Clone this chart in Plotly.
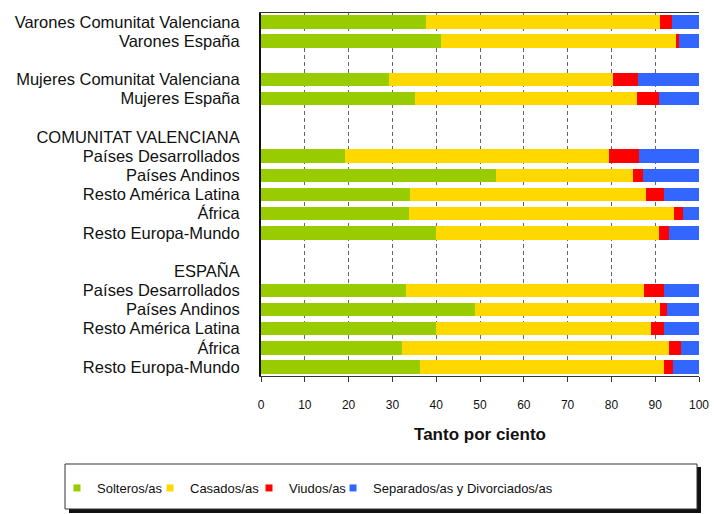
import plotly.graph_objects as go

labels = ["Varones Comunitat Valenciana", "Varones España", "",
          "Mujeres Comunitat Valenciana", "Mujeres España", "",
          "COMUNITAT VALENCIANA", "Países Desarrollados", "Países Andinos",
          "Resto América Latina", "África", "Resto Europa-Mundo", "",
          "ESPAÑA", "Países Desarrollados", "Países Andinos",
          "Resto América Latina", "África", "Resto Europa-Mundo"]

solteros = [37.6, 41.2, None, 29.3, 35.2, None, None, 19.2, 53.7, 34.0, 33.8, 40.0,
            None, None, 33.0, 48.9, 40.0, 32.3, 36.4]
casados = [53.5, 53.5, None, 51.1, 50.6, None, None, 60.3, 31.3, 53.8, 60.6, 50.9,
           None, None, 54.4, 42.2, 49.0, 60.8, 55.5]
viudos = [2.7, 0.8, None, 5.6, 5.1, None, None, 6.7, 2.3, 4.1, 1.9, 2.3,
          None, None, 4.7, 1.7, 2.9, 2.7, 2.2]
separados = [6.2, 4.5, None, 14.0, 9.1, None, None, 13.8, 12.7, 8.1, 3.7, 6.8,
             None, None, 7.9, 7.2, 8.1, 4.2, 5.9]

series_names = ["Solteros/as", "Casados/as", "Viudos/as", "Separados/as y Divorciados/as"]
series_values = [solteros, casados, viudos, separados]
series_colors = ["#99CC00", "#FFD800", "#FF0000", "#3366FF"]

xticks = [0, 10, 20, 30, 40, 50, 60, 70, 80, 90, 100]

pos = list(range(len(labels)))

W, H = 714, 514
PL, PR, PT, PB = 261, 699, 13, 376   # plot area in pixels

def px_x(p):
    return (p - PL) / float(PR - PL)

def px_y(p):
    return (PB - p) / float(PB - PT)

fig = go.Figure()
for name, vals, col in zip(series_names, series_values, series_colors):
    fig.add_trace(go.Bar(y=pos, x=vals, orientation="h", name=name,
                         marker=dict(color=col, line=dict(width=0)),
                         width=0.7, showlegend=False, hoverinfo="skip"))

legend_ids = ["legend", "legend2", "legend3", "legend4"]
legend_text_x = [92, 185, 284, 368]
for lid, name, col in zip(legend_ids, series_names, series_colors):
    fig.add_trace(go.Scatter(x=[None], y=[None], mode="markers", name=name,
                             marker=dict(symbol="square", size=7, color=col),
                             showlegend=True, legend=lid, hoverinfo="skip"))

font = "Liberation Sans, Arial, sans-serif"

fig.add_shape(type="rect", xref="paper", yref="paper",
              x0=px_x(69), x1=px_x(701), y0=px_y(513), y1=px_y(467),
              fillcolor="#111111", line=dict(width=0), layer="above")
fig.add_shape(type="rect", xref="paper", yref="paper",
              x0=px_x(65), x1=px_x(697), y0=px_y(509), y1=px_y(464),
              fillcolor="white", line=dict(color="#333333", width=1), layer="above")

legend_layout = {}
for lid, tx in zip(legend_ids, legend_text_x):
    legend_layout[lid] = dict(orientation="h", x=px_x(tx - 35), xanchor="left",
                              y=px_y(488), yanchor="middle",
                              bgcolor="rgba(0,0,0,0)", borderwidth=0,
                              font=dict(size=13, family=font, color="#111111"),
                              itemwidth=30)

fig.update_layout(
    width=W, height=H,
    margin=dict(l=PL, r=W - PR, t=PT, b=H - PB, autoexpand=False),
    paper_bgcolor="white", plot_bgcolor="white",
    barmode="stack", bargap=0.3, hovermode=False,
    font=dict(family=font, color="#111111"),
    xaxis=dict(range=[0, 100], tickvals=xticks, ticktext=[str(v) for v in xticks],
               showgrid=True, gridcolor="#666666", griddash="4px,3px", gridwidth=1,
               zeroline=False, showline=True, linecolor="#333333", linewidth=1,
               mirror=True, ticks="outside", ticklen=5, tickcolor="#333333",
               tickfont=dict(size=12, family=font), ticklabelstandoff=13,
               automargin=False,
               title=dict(text="<b>Tanto por ciento</b>", font=dict(size=17, family=font),
                          standoff=16)),
    yaxis=dict(range=[18.47, -0.47], tickvals=pos, ticktext=labels,
               showgrid=False, zeroline=False, showline=True, linecolor="#111111",
               linewidth=2, ticks="", tickfont=dict(size=16.5, family=font),
               ticklabelstandoff=16, automargin=False),
    **legend_layout,
)

fig.write_html("out.html", config={"displayModeBar": False, "staticPlot": True},
               post_script="document.body.style.margin='0';")
